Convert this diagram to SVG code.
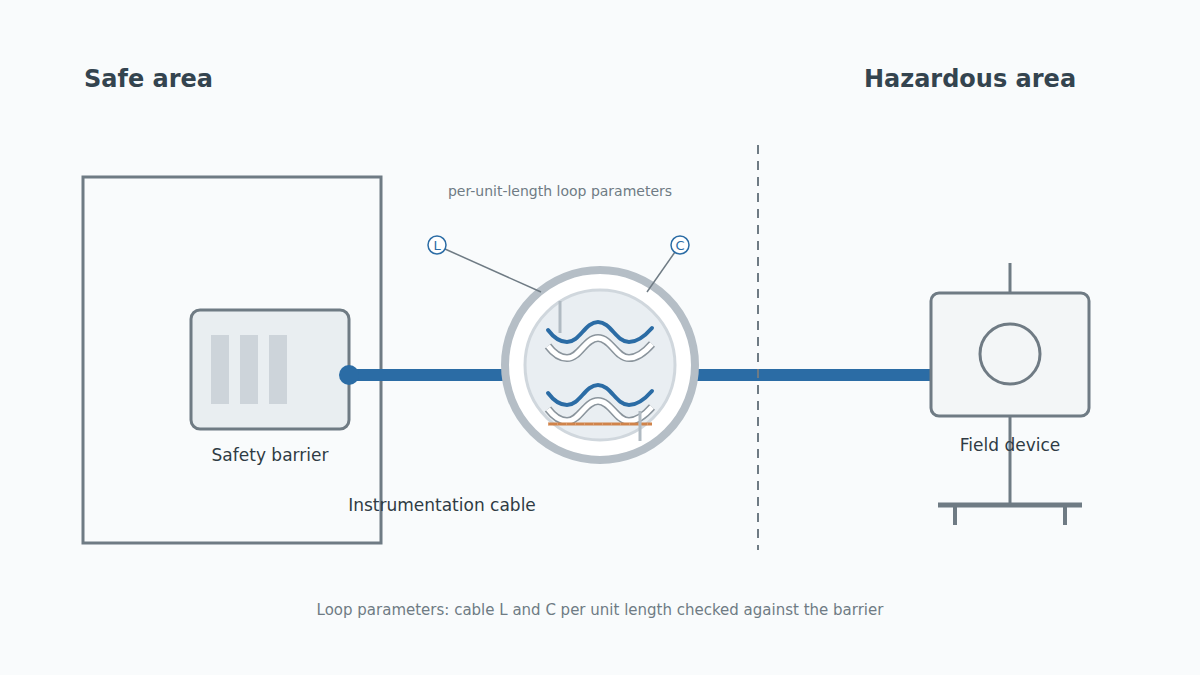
<svg xmlns="http://www.w3.org/2000/svg" width="1200" height="675" viewBox="0 0 1200 675">
<defs>
<style>
text{font-family:"DejaVu Sans","Noto Sans",sans-serif}
.title{font-size:24px;font-weight:bold;fill:#34444f}
.lbl{font-size:17px;fill:#2f3b44}
.note{font-size:15px;fill:#6f7b84}
.small{font-size:14px;fill:#6f7b84}
.frame{fill:none;stroke:#6f7b84;stroke-width:3}
.wire{fill:none;stroke:#2b6ca5;stroke-width:4;stroke-linecap:round}
.bandO{fill:none;stroke:#8a949c;stroke-width:8}
.bandI{fill:none;stroke:#ffffff;stroke-width:5}
.tick{stroke:#b0bac2;stroke-width:3}
.badge{fill:#ffffff;stroke:#2b6ca5;stroke-width:1.5}
.btxt{font-size:13px;fill:#2b6ca5}
</style>
<path id="wave" d="M548,330 C554,338 560,342 567,342 C580,342 585,322 598,322 C611,322 616,342 629,342 C638,342 645,336 652,328"/>
</defs>
<rect width="1200" height="675" fill="#f9fbfc"/>

<text class="title" x="84" y="87">Safe area</text>
<text class="title" x="970" y="87" text-anchor="middle">Hazardous area</text>

<g id="safe-area-enclosure">
<rect class="frame" x="83" y="177" width="298" height="366"/>
</g>

<g id="safety-barrier">
<rect x="191" y="310" width="158" height="119" rx="9" fill="#e9eef1" stroke="#6f7b84" stroke-width="3"/>
<rect x="211" y="335" width="18" height="69" fill="#cdd4da"/>
<rect x="240" y="335" width="18" height="69" fill="#cdd4da"/>
<rect x="269" y="335" width="18" height="69" fill="#cdd4da"/>
<text class="lbl" x="270" y="461" text-anchor="middle">Safety barrier</text>
</g>

<g id="connectors">
<line x1="349" y1="375" x2="932" y2="375" stroke="#2b6ca5" stroke-width="12"/>
<circle cx="349" cy="375" r="10" fill="#2b6ca5"/>
<line x1="758" y1="145" x2="758" y2="550" stroke="#6f7b84" stroke-width="2" stroke-dasharray="9 7"/>
</g>

<g id="instrumentation-cable">
<circle cx="600" cy="365" r="95" fill="#ffffff" stroke="#b5bec6" stroke-width="8"/>
<circle cx="600" cy="365" r="75" fill="#e9eef2" stroke="#d0d7dd" stroke-width="3"/>
<line class="tick" x1="560" y1="301" x2="560" y2="333"/>
<use href="#wave" class="bandO" transform="translate(0,16)"/>
<use href="#wave" class="bandI" transform="translate(0,16)"/>
<use href="#wave" class="wire"/>
<use href="#wave" class="bandO" transform="translate(0,79)"/>
<use href="#wave" class="bandI" transform="translate(0,79)"/>
<use href="#wave" class="wire" transform="translate(0,63)"/>
<line x1="548" y1="424" x2="652" y2="424" stroke="#d0834a" stroke-width="3"/>
<line x1="548" y1="424" x2="652" y2="424" stroke="#e8b592" stroke-width="1" stroke-dasharray="1 8"/>
<line class="tick" x1="640" y1="411" x2="640" y2="441"/>
<text class="lbl" x="442" y="511" text-anchor="middle">Instrumentation cable</text>
</g>

<g id="loop-parameters">
<text class="small" x="560" y="196" text-anchor="middle">per-unit-length loop parameters</text>
<line x1="445" y1="249" x2="541" y2="292" stroke="#6f7b84" stroke-width="1.5"/>
<line x1="675" y1="252" x2="647" y2="292" stroke="#6f7b84" stroke-width="1.5"/>
<circle class="badge" cx="437" cy="245" r="9"/>
<text class="btxt" x="437" y="249.5" text-anchor="middle">L</text>
<circle class="badge" cx="680" cy="245" r="9"/>
<text class="btxt" x="680" y="249.5" text-anchor="middle">C</text>
</g>

<g id="field-device">
<line x1="1010" y1="263" x2="1010" y2="293" stroke="#6f7b84" stroke-width="3"/>
<line x1="1010" y1="416" x2="1010" y2="505" stroke="#6f7b84" stroke-width="3"/>
<line x1="938" y1="505" x2="1082" y2="505" stroke="#6f7b84" stroke-width="5"/>
<line x1="955" y1="505" x2="955" y2="525" stroke="#6f7b84" stroke-width="4"/>
<line x1="1065" y1="505" x2="1065" y2="525" stroke="#6f7b84" stroke-width="4"/>
<rect x="931" y="293" width="158" height="123" rx="8" fill="#f3f6f7" stroke="#6f7b84" stroke-width="3"/>
<circle cx="1010" cy="354" r="30" fill="none" stroke="#6f7b84" stroke-width="3"/>
<text class="lbl" x="1010" y="451" text-anchor="middle">Field device</text>
</g>

<text class="note" x="600" y="615" text-anchor="middle">Loop parameters: cable L and C per unit length checked against the barrier</text>
</svg>
